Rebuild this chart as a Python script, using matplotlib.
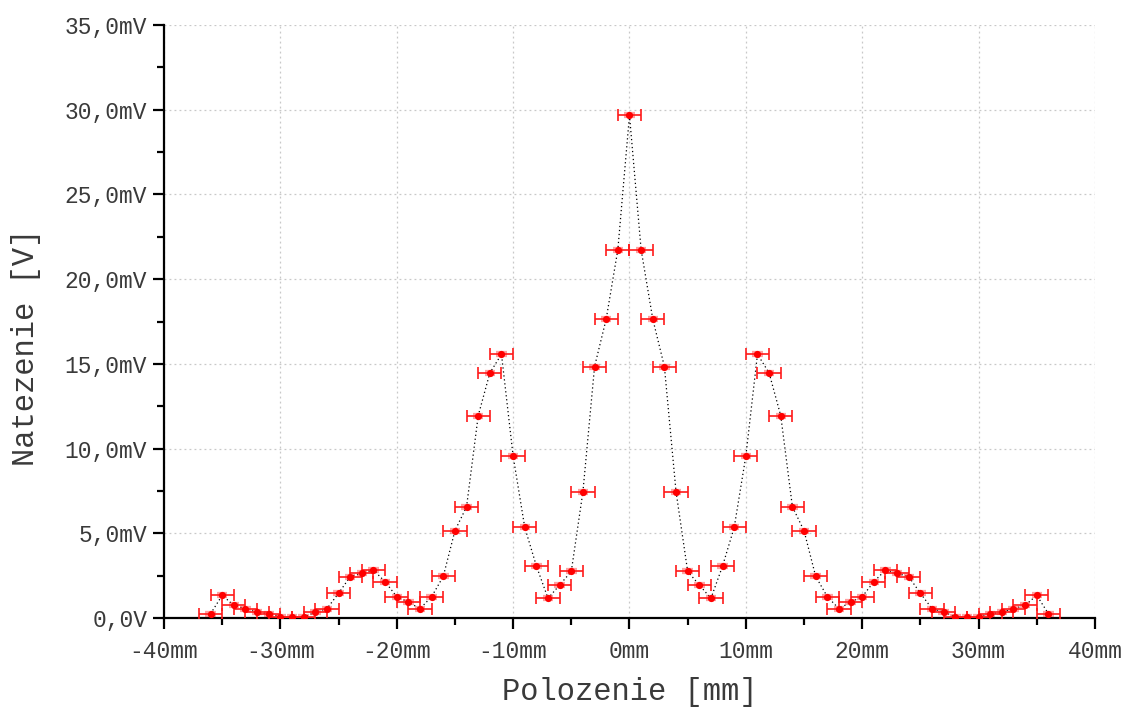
import matplotlib
matplotlib.use("Agg")
import matplotlib.pyplot as plt
from matplotlib.ticker import MultipleLocator, FixedLocator

position_mm = list(range(-36, 37))
voltage_mV = [
    0.25, 1.34, 0.75, 0.55, 0.35, 0.24, 0.08, 0.04, 0.04, 0.35,
    0.55, 1.46, 2.44, 2.64, 2.83, 2.14, 1.26, 0.94, 0.55, 1.26,
    2.46, 5.15, 6.57, 11.94, 14.46, 15.57, 9.56, 5.35, 3.07, 1.16,
    1.95, 2.75, 7.46, 14.84, 17.65, 21.74, 29.67, 21.74, 17.65, 14.84,
    7.46, 2.75, 1.95, 1.16, 3.07, 5.35, 9.56, 15.57, 14.46, 11.94,
    6.57, 5.15, 2.46, 1.26, 0.55, 0.94, 1.26, 2.14, 2.83, 2.64,
    2.44, 1.46, 0.55, 0.35, 0.08, 0.04, 0.04, 0.24, 0.35, 0.55,
    0.75, 1.34, 0.25,
]
x_error_mm = 1.0

x_ticks = [-40, -30, -20, -10, 0, 10, 20, 30, 40]
x_tick_labels = ["-40mm", "-30mm", "-20mm", "-10mm", "0mm", "10mm", "20mm", "30mm", "40mm"]
y_ticks = [0, 5, 10, 15, 20, 25, 30, 35]
y_tick_labels = ["0,0V", "5,0mV", "10,0mV", "15,0mV", "20,0mV", "25,0mV", "30,0mV", "35,0mV"]

plt.rcParams['font.family'] = ['Liberation Mono', 'DejaVu Sans Mono']

fig = plt.figure(figsize=(11.28, 7.08), dpi=100)
ax = fig.add_axes([0.1454, 0.1271, 0.9707 - 0.1454, 0.9647 - 0.1271])

ax.plot(position_mm, voltage_mV, color='black', linestyle=(0, (1, 2.2)), linewidth=0.9, zorder=2)
ax.errorbar(position_mm, voltage_mV, xerr=0.45, fmt='none', ecolor='#ff3030',
            elinewidth=4.5, alpha=0.45, capsize=0, zorder=3)
ax.errorbar(position_mm, voltage_mV, xerr=x_error_mm, fmt='none', ecolor='#ff1a1a',
            elinewidth=1.2, capsize=4.5, capthick=1.2, zorder=4)
ax.plot(position_mm, voltage_mV, linestyle='none', marker='o', markersize=5.2,
        color='#ff0000', markeredgewidth=0, zorder=5)

ax.set_xlim(-40, 40)
ax.set_ylim(0, 35)
ax.xaxis.set_major_locator(FixedLocator(x_ticks))
ax.set_xticklabels(x_tick_labels)
ax.xaxis.set_minor_locator(MultipleLocator(5))
ax.yaxis.set_major_locator(FixedLocator(y_ticks))
ax.set_yticklabels(y_tick_labels)
ax.yaxis.set_minor_locator(MultipleLocator(2.5))

for s in ['top', 'right']:
    ax.spines[s].set_visible(False)
for s in ['left', 'bottom']:
    ax.spines[s].set_linewidth(1.6)
    ax.spines[s].set_color('black')

ax.tick_params(axis='both', which='major', direction='out', length=8, width=1.6,
               labelsize=16.5, colors='black', labelcolor='#3a3a3a')
ax.tick_params(axis='x', which='major', pad=8)
ax.tick_params(axis='y', which='major', pad=4)
ax.tick_params(axis='both', which='minor', direction='out', length=5, width=1.6)

ax.grid(True, which='major', color='#c8c8c8', linestyle=(0, (1.5, 2.5)), linewidth=0.9)
ax.set_axisbelow(True)

ax.set_xlabel("Polozenie [mm]", fontsize=22, color='#3a3a3a', labelpad=10)
ax.set_ylabel("Natezenie [V]", fontsize=22, color='#3a3a3a')
ax.yaxis.set_label_coords(-0.132, 0.457)

fig.savefig("out.png", dpi=100)
